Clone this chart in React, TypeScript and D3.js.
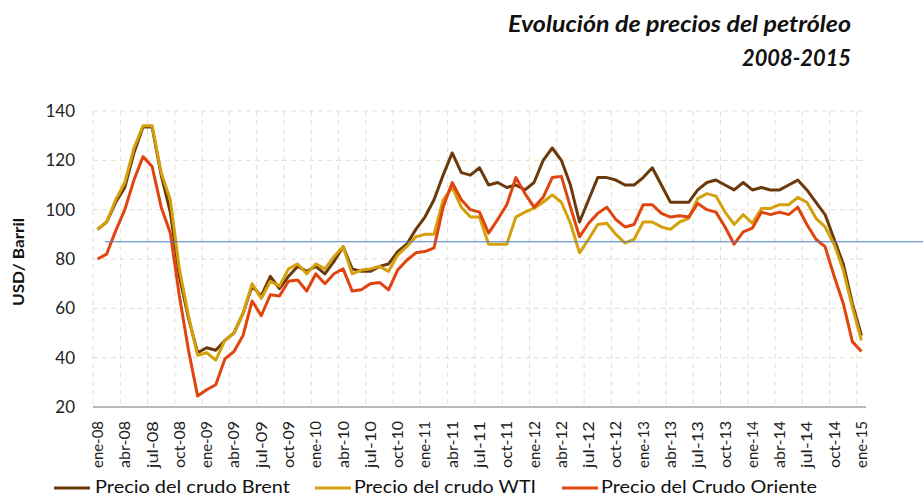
import React from "react";
import * as d3 from "d3";

const WIDTH = 923;
const HEIGHT = 497;
const MARGIN = { top: 111, right: 57, bottom: 90, left: 93 };

const MONTH_ABBR = ["ene", "feb", "mar", "abr", "may", "jun", "jul", "ago", "sep", "oct", "nov", "dic"];
const YEARS = ["08", "09", "10", "11", "12", "13", "14", "15"];

// ene-08 ... ene-15
const MONTHS: string[] = YEARS.flatMap((y) => MONTH_ABBR.map((m) => `${m}-${y}`)).slice(0, 85);

const BRENT = [
  92, 95, 103, 109, 123, 133.5, 133.5, 114, 99, 73, 56, 42,
  44, 43, 47, 50, 58, 69, 65, 73, 68, 73, 77, 75,
  77, 74, 79, 85, 76, 75, 75, 77, 78, 83, 86, 92,
  97, 104, 114, 123, 115, 114, 117, 110, 111, 109, 110, 108,
  111, 120, 125, 120, 110, 95, 104, 113, 113, 112, 110, 110,
  113, 117, 110, 103, 103, 103, 108, 111, 112, 110, 108, 111,
  108, 109, 108, 108, 110, 112, 108, 103, 98, 88, 78, 62,
  49,
];

const WTI = [
  92, 95, 104, 111, 125, 134, 134, 115, 104, 76, 57, 41,
  42, 39, 47, 50, 58, 70, 64, 71, 69, 76, 78, 74,
  78, 76, 81, 85, 74, 75.5, 76, 77, 75, 81.6, 85, 89,
  90, 90, 104, 109, 101, 97, 97, 86, 86, 86, 97, 99,
  100.6, 103, 106, 103, 94.5, 82.5, 88, 94, 94.5, 90, 86.5, 88,
  95, 95, 93, 92, 95, 96.5, 104.5, 106.5, 105.5, 99, 94, 98,
  94.5, 100.5, 100.5, 102, 102, 105, 103, 96.5, 93, 86, 75.5, 60.5,
  47,
];

const ORIENTE = [
  80, 82, 91.5, 100, 112, 121.5, 117.5, 101, 90.5, 65, 43, 24.5,
  27, 29, 39.5, 42.5, 49, 63, 57, 65.5, 65, 71, 71.5, 67,
  74, 70, 74, 76, 67, 67.5, 70, 70.5, 67.5, 75.5, 79.5, 82.5,
  83, 84.5, 101, 111, 104, 100, 99, 90.5, 96, 102, 113, 106.5,
  101, 105, 113, 113.5, 101, 89, 94.5, 98.5, 101, 96, 93, 94,
  102, 102, 98.5, 97, 97.5, 97, 102.5, 100, 99, 93, 86, 91,
  92.5, 99, 98, 99, 98, 101, 94, 88, 85, 73, 62, 46.5,
  42.5,
];

const Y_TICKS = [20, 40, 60, 80, 100, 120, 140];
const REFERENCE_VALUE = 87;

const SERIES = [
  { name: "Precio del crudo Brent", values: BRENT, color: "#6b3a0c" },
  { name: "Precio del crudo WTI", values: WTI, color: "#d4a00c" },
  { name: "Precio del Crudo Oriente", values: ORIENTE, color: "#e0440f" },
];

const FONT = "Lato, 'Open Sans', sans-serif";

export default function App() {
  const innerRight = WIDTH - MARGIN.right;
  const innerBottom = 407;

  const x = d3.scaleBand<string>().domain(MONTHS).range([MARGIN.left, innerRight]).paddingInner(0).paddingOuter(0);
  const bw = x.bandwidth();
  const y = d3.scaleLinear().domain([20, 140]).range([innerBottom, MARGIN.top]);

  const line = d3
    .line<number>()
    .x((_, i) => (x(MONTHS[i]) as number) + bw / 2)
    .y((v) => y(v));

  const tickMonths = MONTHS.filter((_, i) => i % 3 === 0);

  const legendItems = [
    { lx: 54, tx: 95, w: 195 },
    { lx: 315, tx: 354, w: 182 },
    { lx: 562, tx: 601, w: 216 },
  ];

  return (
    <svg
      width={WIDTH}
      height={HEIGHT}
      style={{ position: "absolute", left: 0, top: 0, background: "#fff", fontFamily: FONT }}
    >
      {/* Title */}
      <text
        x={851}
        y={32}
        textAnchor="end"
        fontSize={22}
        fontWeight={700}
        fontStyle="italic"
        fill="#111"
        textLength={343}
        lengthAdjust="spacingAndGlyphs"
      >
        Evolución de precios del petróleo
      </text>
      <text
        x={851}
        y={66}
        textAnchor="end"
        fontSize={22}
        fontWeight={700}
        fontStyle="italic"
        fill="#111"
        textLength={109}
        lengthAdjust="spacingAndGlyphs"
      >
        2008-2015
      </text>

      {/* Horizontal grid */}
      {Y_TICKS.filter((t) => t > 20).map((t) => (
        <line
          key={`hg${t}`}
          x1={MARGIN.left}
          x2={innerRight}
          y1={y(t)}
          y2={y(t)}
          stroke="#e4dfcc"
          strokeWidth={1}
          strokeDasharray="5,4"
        />
      ))}

      {/* Vertical grid */}
      {tickMonths.map((m) => (
        <line
          key={`vg${m}`}
          x1={x(m)}
          x2={x(m)}
          y1={MARGIN.top}
          y2={innerBottom}
          stroke="#e4dfcc"
          strokeWidth={1}
          strokeDasharray="5,4"
        />
      ))}

      {/* X axis line */}
      <line x1={MARGIN.left} x2={innerRight} y1={innerBottom} y2={innerBottom} stroke="#a0a0a0" strokeWidth={1.5} />

      {/* Y tick labels */}
      {Y_TICKS.map((t) => (
        <text key={`yl${t}`} x={75} y={y(t)} dy="0.35em" textAnchor="end" fontSize={17} fill="#222">
          {t}
        </text>
      ))}

      {/* Y axis title */}
      <text
        transform={`translate(24,${(y(140) + y(20)) / 2 + 3}) rotate(-90)`}
        textAnchor="middle"
        fontSize={16}
        fontWeight={700}
        fill="#111"
        textLength={88}
        lengthAdjust="spacingAndGlyphs"
      >
        USD/ Barril
      </text>

      {/* X tick labels */}
      {tickMonths.map((m) => (
        <text
          key={`xl${m}`}
          transform={`translate(${(x(m) as number) + bw / 2 + 5.5},${innerBottom + 14}) rotate(-90)`}
          textAnchor="end"
          fontSize={15}
          fill="#222"
          textLength={47}
          lengthAdjust="spacingAndGlyphs"
        >
          {m}
        </text>
      ))}

      {/* Series */}
      {SERIES.map((s) => (
        <path
          key={s.name}
          d={line(s.values) ?? ""}
          fill="none"
          stroke={s.color}
          strokeWidth={3}
          strokeLinejoin="round"
        />
      ))}

      {/* Reference line */}
      <line x1={105} x2={WIDTH} y1={y(REFERENCE_VALUE)} y2={y(REFERENCE_VALUE)} stroke="#4a7fc0" strokeWidth={1.2} />

      {/* Legend */}
      {SERIES.map((s, i) => (
        <g key={`lg${s.name}`}>
          <line x1={legendItems[i].lx} x2={legendItems[i].lx + 36} y1={488} y2={488} stroke={s.color} strokeWidth={3} />
          <text
            x={legendItems[i].tx}
            y={493}
            fontSize={18}
            fill="#111"
            textLength={legendItems[i].w}
            lengthAdjust="spacingAndGlyphs"
          >
            {s.name}
          </text>
        </g>
      ))}
    </svg>
  );
}
